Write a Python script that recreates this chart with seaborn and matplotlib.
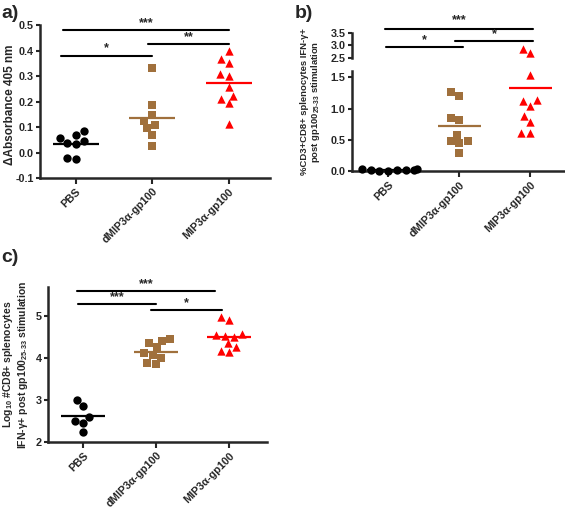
import numpy as np
import pandas as pd
import matplotlib
matplotlib.use("Agg")
import matplotlib.pyplot as plt
import seaborn as sns

groups = ["PBS", "dMIP3α-gp100", "MIP3α-gp100"]
colors = ["black", "#a0703c", "#ff0000"]
markers = ["o", "s", "^"]

# a) delta absorbance 405 nm
abs_pbs = [0.056, 0.069, 0.085, 0.039, 0.033, 0.047, -0.026, -0.020]
abs_dmip = [0.330, 0.187, 0.147, 0.108, 0.095, 0.125, 0.069, 0.027]
abs_mip = [0.398, 0.352, 0.365, 0.310, 0.300, 0.256, 0.209, 0.222, 0.193, 0.111]

# b) % CD3+CD8+ IFN-g+ splenocytes
pct_pbs = [0.02, 0.03, 0.02, 0.00, 0.01, 0.02, 0.02, 0.03]
pct_dmip = [1.26, 1.21, 0.82, 0.85, 0.58, 0.49, 0.45, 0.49, 0.29]
pct_mip = [2.70, 2.87, 1.53, 1.14, 1.13, 1.05, 0.88, 0.78, 0.61, 0.61]

# c) log10 # CD8+ IFN-g+ splenocytes
log_pbs = [3.01, 2.86, 2.60, 2.45, 2.50, 2.24]
log_dmip = [4.45, 4.35, 4.41, 4.25, 4.11, 4.01, 4.07, 3.85, 3.87]
log_mip = [4.90, 4.98, 4.55, 4.53, 4.49, 4.57, 4.35, 4.27, 4.15, 4.17]

sns.set_style("ticks")
plt.rcParams["font.family"] = ["Liberation Sans", "DejaVu Sans"]
plt.rcParams["font.weight"] = "bold"
plt.rcParams["axes.labelweight"] = "bold"
plt.rcParams["mathtext.fontset"] = "custom"
plt.rcParams["mathtext.rm"] = "Liberation Sans:bold"
plt.rcParams["mathtext.default"] = "rm"
plt.rcParams["axes.linewidth"] = 1.8
plt.rcParams["xtick.major.width"] = 1.5
plt.rcParams["ytick.major.width"] = 1.5
plt.rcParams["xtick.major.size"] = 4
plt.rcParams["ytick.major.size"] = 3
plt.rcParams["xtick.major.pad"] = 2
plt.rcParams["ytick.major.pad"] = 1.5


def draw_groups(ax, vals_list, size=6, lo=-np.inf, hi=np.inf, means=True):
    for i, vals in enumerate(vals_list):
        v = [x for x in vals if lo <= x <= hi]
        df = pd.DataFrame({"group": groups[i], "value": v})
        sns.swarmplot(data=df, x="group", y="value", order=groups,
                      color=colors[i], marker=markers[i], size=size,
                      ax=ax, clip_on=False, linewidth=0)
        if means:
            ax.hlines(np.mean(vals), i - 0.3, i + 0.3, color=colors[i], lw=1.6, zorder=1)
    ax.set_xlabel("")
    ax.set_ylabel("")


def bold_ticks(ax):
    for t in ax.get_xticklabels() + ax.get_yticklabels():
        t.set_fontweight("bold")
        t.set_fontsize(7.8)


def style_x(ax):
    ax.set_xticks(range(3))
    ax.set_xticklabels(groups, rotation=45, ha="right", rotation_mode="anchor")
    sns.despine(ax=ax)
    bold_ticks(ax)


def sig(ax, x0, x1, y, txt, dy):
    ax.plot([x0, x1], [y, y], color="black", lw=1.5, clip_on=False)
    ax.text((x0 + x1) / 2, y + dy, txt, ha="center", va="bottom", fontsize=9, fontweight="bold")


fig = plt.figure(figsize=(5.65, 5.08), dpi=100)

# panel a
ax_a = fig.add_axes([0.0708, 0.6496, 0.407, 0.301])
draw_groups(ax_a, [abs_pbs, abs_dmip, abs_mip])
ax_a.set_ylim(-0.1, 0.5)
ax_a.set_yticks([-0.1, 0.0, 0.1, 0.2, 0.3, 0.4, 0.5])
ax_a.set_yticklabels(["-0.1", "0.0", "0.1", "0.2", "0.3", "0.4", "0.5"])
ax_a.set_xlim(-0.47, 2.54)
style_x(ax_a)
ax_a.set_ylabel("ΔAbsorbance 405 nm", fontsize=8.5)
ax_a.yaxis.set_label_coords(-0.105, 0.48)
sig(ax_a, -0.17, 2.01, 0.48, "***", 0.005)
sig(ax_a, 0.95, 2.01, 0.425, "**", 0.005)
sig(ax_a, -0.2, 0.99, 0.38, "*", 0.005)
fig.text(0.002, 0.99, "a)", fontsize=14, fontweight="bold", va="top")

# panel b (broken axis)
ax_b = fig.add_axes([0.623, 0.663, 0.377, 0.197])
ax_bt = fig.add_axes([0.623, 0.886, 0.377, 0.049])
draw_groups(ax_b, [pct_pbs, pct_dmip, pct_mip], hi=2.0)
draw_groups(ax_bt, [[], [], pct_mip], lo=2.0, means=False)
ax_b.set_ylim(0, 1.6)
ax_b.set_yticks([0.0, 0.5, 1.0, 1.5])
ax_b.set_xlim(-0.51, 2.49)
style_x(ax_b)
ax_bt.set_ylim(2.5, 3.5)
ax_bt.set_yticks([2.5, 3.0, 3.5])
ax_bt.set_xlim(-0.51, 2.49)
ax_bt.set_xticks([])
sns.despine(ax=ax_bt, bottom=True)
bold_ticks(ax_bt)
sig(ax_bt, -0.04, 2.04, 3.66, "***", 0.12)
sig(ax_bt, 0.94, 2.04, 3.18, "*", 0.05)
sig(ax_bt, -0.03, 1.06, 2.94, "*", 0.05)
fig.text(311 / 565, 1 - 102 / 508,
         "%CD3+CD8+ splenocytes IFN-γ+\npost gp100$_{25\\text{-}33}$ stimulation",
         rotation=90, ha="center", va="center", fontsize=6.8, fontweight="bold",
         multialignment="center", linespacing=1.1)
fig.text(0.522, 0.99, "b)", fontsize=14, fontweight="bold", va="top")

# panel c
ax_c = fig.add_axes([0.085, 0.130, 0.388, 0.305])
draw_groups(ax_c, [log_pbs, log_dmip, log_mip])
ax_c.set_ylim(2, 5.69)
ax_c.set_yticks([2, 3, 4, 5])
ax_c.set_xlim(-0.48, 2.52)
style_x(ax_c)
ax_c.set_ylabel("Log$_{10}$ #CD8+ splenocytes\nIFN-γ+ post gp100$_{25\\text{-}33}$ stimulation",
                fontsize=7.5, linespacing=1.1)
ax_c.yaxis.set_label_coords(-0.08, 0.5)
sig(ax_c, -0.08, 1.81, 5.6, "***", 0.02)
sig(ax_c, -0.07, 1.0, 5.29, "***", 0.02)
sig(ax_c, 0.93, 1.9, 5.14, "*", 0.02)
fig.text(0.002, 0.51, "c)", fontsize=14, fontweight="bold", va="top")

fig.savefig("out.png", dpi=100)
